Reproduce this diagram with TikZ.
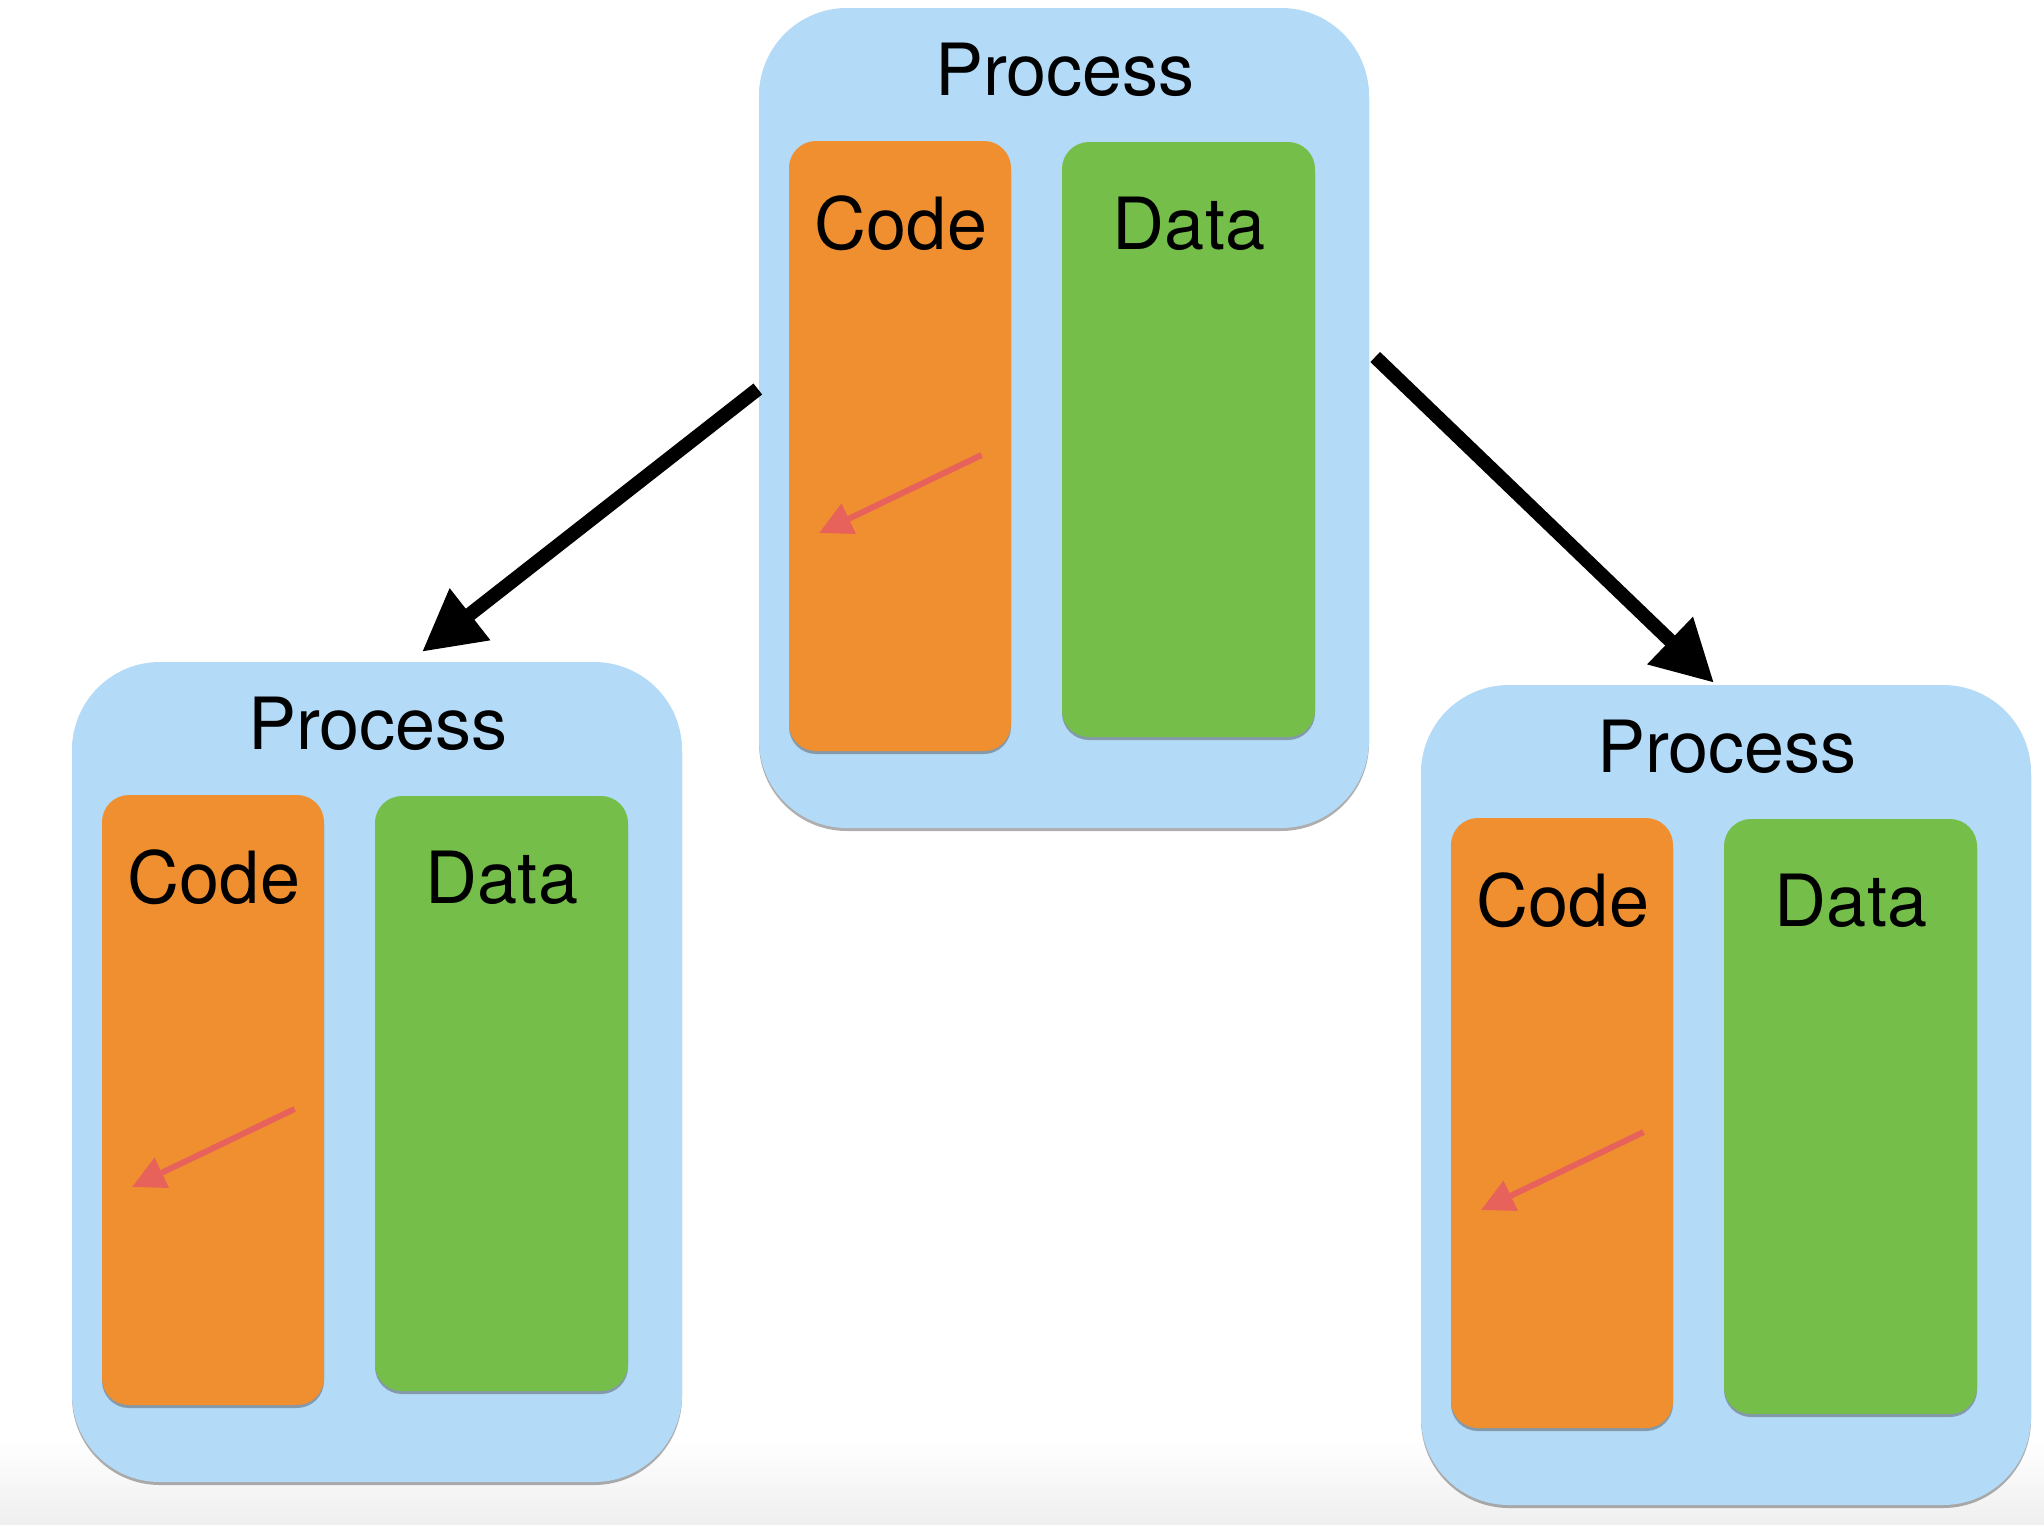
\documentclass[tikz,border=0pt]{standalone}
\usepackage{fontspec}
\setmainfont{TeX Gyre Heros}
\usetikzlibrary{arrows.meta,shadows,calc}
\definecolor{procblue}{HTML}{B3DAF7}
\definecolor{codeorange}{HTML}{F08F2F}
\definecolor{datagreen}{HTML}{75BE4A}
\definecolor{jumpred}{HTML}{E8625C}
\definecolor{floorgray}{HTML}{EFEFEF}
\tikzset{
  softshadow/.style={drop shadow={shadow xshift=0pt,shadow yshift=-3pt,opacity=.45,fill=black!70}},
  procbox/.style={fill=procblue, rounded corners=88pt, minimum width=610pt, minimum height=820pt, inner sep=0pt, softshadow},
  codebox/.style={fill=codeorange, rounded corners=27pt, minimum width=222pt, minimum height=610pt, inner sep=0pt, softshadow},
  databox/.style={fill=datagreen, rounded corners=27pt, minimum width=253pt, minimum height=595pt, inner sep=0pt, softshadow},
  lbl/.style={anchor=base, inner sep=0pt, font=\fontsize{72}{80}\selectfont},
  forkarrow/.style={draw=black, line width=14pt, -{Triangle[length=61pt,width=62pt]}},
  jumparrow/.style={draw=jumpred, line width=6pt, -{Triangle[length=33pt,width=32pt]}},
}
\newcommand\drawprocess[3]{%
  \begin{scope}[shift={(#2,#3)}]
    \node[procbox] (#1) at (1064,418) {};
    \node[codebox] (#1code) at (900,446) {};
    \node[databox] (#1data) at (1188.5,439.5) {};
    \node[lbl] (#1title) at (1065,95) {Process};
    \node[lbl] (#1codelbl) at (901,249) {Code};
    \node[lbl] (#1datalbl) at (1189,249) {Data};
    \coordinate (#1from) at (981.6,455);
    \coordinate (#1to) at (819,533);
    \draw[jumparrow] (#1from) -- (#1to);
  \end{scope}}
\begin{document}
\begin{tikzpicture}[x=1pt,y=-1pt]
  \useasboundingbox (0,0) rectangle (2044,1524);
  \fill[white] (0,0) rectangle (2044,1524);
  \shade[top color=white, bottom color=floorgray] (0,1440) rectangle (2044,1524);
  \drawprocess{pa}{0}{0}
  \drawprocess{pb}{-687}{654}
  \drawprocess{pc}{662}{677}
  \draw[forkarrow] ($(pa.west)+(-1,-29)$) -- ($(pb.north)+(45,-10)$);
  \draw[forkarrow] ($(pa.east)+(6,-61)$) -- ($(pc.north)+(-12,-2)$);
\end{tikzpicture}
\end{document}
